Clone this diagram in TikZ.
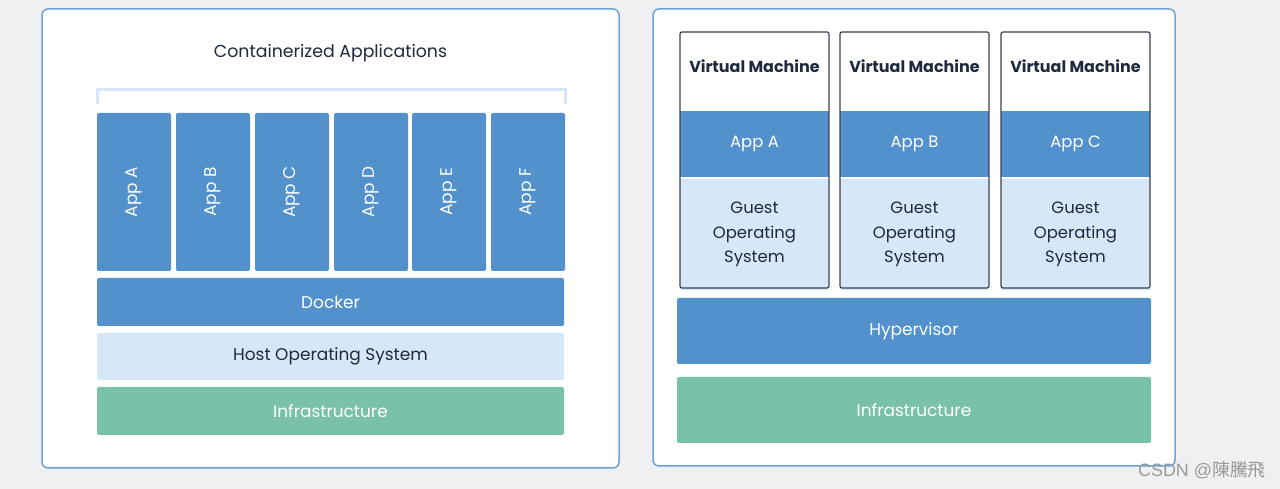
\documentclass[tikz,border=0pt]{standalone}
\usepackage{fontspec}
\setmainfont{Poppins}
\newfontfamily\cjkfont{Noto Sans CJK TC}
\newfontfamily\markfont{Liberation Sans}
\definecolor{pagegray}{HTML}{EEF0F2}
\definecolor{panelblue}{HTML}{6EA2D6}
\definecolor{layerblue}{HTML}{5291CB}
\definecolor{paleblue}{HTML}{D6E8F7}
\definecolor{infragreen}{HTML}{7AC1A9}
\definecolor{inkdark}{HTML}{1E2A3E}
\definecolor{vmframe}{HTML}{3A4150}
\tikzset{
  panel/.style={draw=panelblue,line width=1.5bp,fill=white,rounded corners=6bp,inner sep=0pt},
  layer/.style={rounded corners=2bp,inner sep=0pt,font=\fontsize{17}{20}\selectfont},
  bluelayer/.style={layer,fill=layerblue,text=white},
  palelayer/.style={layer,fill=paleblue,text=inkdark},
  greenlayer/.style={layer,fill=infragreen,text=white},
  appbox/.style={bluelayer,minimum width=74bp,minimum height=158bp},
  vmband/.style={inner sep=0pt,minimum width=149bp,font=\fontsize{16.5}{20}\selectfont},
  vmframe/.style={draw=vmframe,line width=1.2bp,rounded corners=2bp,minimum width=149bp,minimum height=256bp,inner sep=0pt},
}
\begin{document}
\begin{tikzpicture}
\useasboundingbox[fill=pagegray] (0bp,0bp) rectangle (1280bp,489bp);
%% containers
\node (leftpanel) at (330.5bp,250.5bp) [panel,minimum width=577bp,minimum height=459bp] {};
\node (title) at (330.5bp,436bp) [text=inkdark,font=\fontsize{17.4}{20}\selectfont] {Containerized Applications};
\draw [paleblue,line width=3bp] (97bp,385bp) -- (97bp,399bp) -- (565bp,399bp) -- (565bp,385bp);
\foreach \x/\name in {134/A,213/B,292/C,371/D,449/E,528/F}
  \node (app\name) at (\x bp,297bp) [appbox] {\rotatebox{90}{App \name}};
\node (docker) at (330.5bp,187bp) [bluelayer,minimum width=467bp,minimum height=48bp] {Docker};
\node (hostos) at (330.5bp,132.5bp) [palelayer,minimum width=467bp,minimum height=47bp] {\raisebox{-2.5bp}{Host Operating System}};
\node (infraL) at (330.5bp,78bp) [greenlayer,minimum width=467bp,minimum height=48bp] {Infrastructure};
%% virtual machines
\node (rightpanel) at (914bp,251.5bp) [panel,minimum width=522bp,minimum height=457bp] {};
\foreach \x/\name in {754.5/A,914.5/B,1075.5/C} {
  \node (vmapp\name) at (\x bp,345bp) [vmband,fill=layerblue,text=white,minimum height=66bp] {App \name};
  \node (guest\name) at (\x bp,254.5bp) [vmband,fill=paleblue,text=inkdark,minimum height=111bp,align=center,font=\fontsize{16.5}{24.5}\selectfont] {Guest\\Operating\\System};
  \node (vm\name) at (\x bp,329bp) [vmframe] {};
  \node (vmtitle\name) at (\x bp,423bp) [text=inkdark,font=\fontsize{16}{19}\selectfont\bfseries] {Virtual Machine};
}
\node (hypervisor) at (914bp,158bp) [bluelayer,minimum width=474bp,minimum height=66bp] {Hypervisor};
\node (infraR) at (914bp,79bp) [greenlayer,minimum width=474bp,minimum height=66bp] {Infrastructure};
%
\node (mark) at (1202bp,19bp) [text=black!40,font=\fontsize{18}{20}\selectfont\markfont] {CSDN @{\cjkfont 陳騰飛}};
\end{tikzpicture}
\end{document}
